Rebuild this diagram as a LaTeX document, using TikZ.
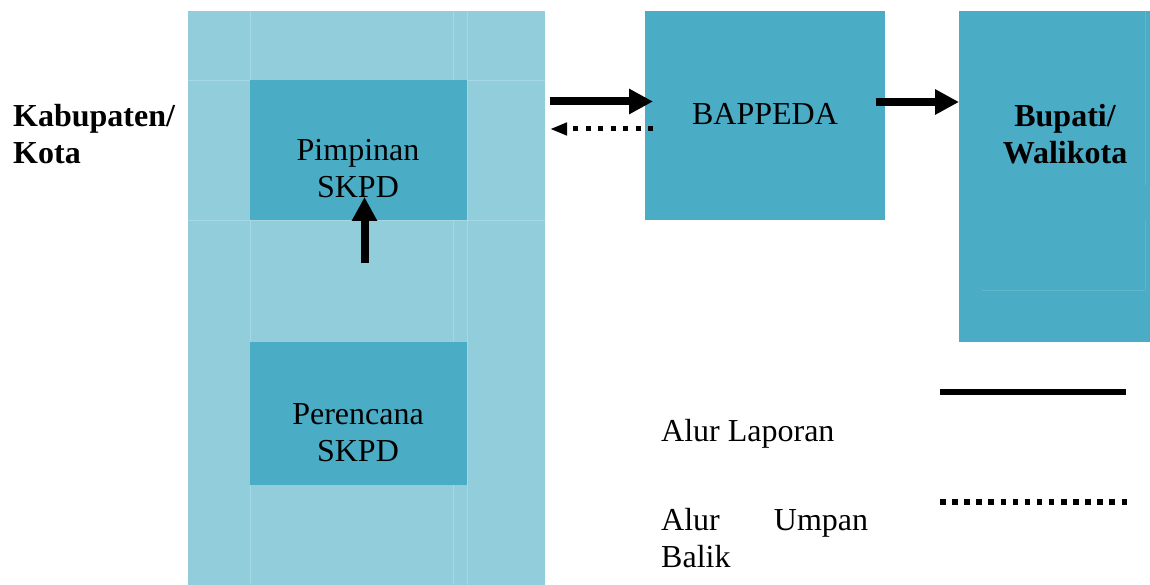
\documentclass[tikz,border=0pt]{standalone}
\usepackage{fontspec}
\setmainfont{Liberation Serif}
\usetikzlibrary{arrows.meta,calc}
\definecolor{lightaqua}{HTML}{92CDDC}
\definecolor{darkaqua}{HTML}{4BACC6}
\definecolor{gridl}{HTML}{A6D7E4}
\definecolor{gridd}{HTML}{5FB6CD}
\begin{document}
\begin{tikzpicture}[x=1pt,y=-1pt,
  box/.style={inner sep=0pt, outer sep=0pt, anchor=north west, draw=none},
  txt/.style={font=\fontsize{32}{37}\selectfont, inner sep=0pt, anchor=base},
  txtl/.style={txt, anchor=base west},
  bold/.style={font=\fontsize{32}{37}\selectfont\bfseries},
  bigarrow/.style={line width=8pt, -{Triangle[length=24pt,width=24pt]}},
  dotarrow/.style={line width=5pt, dash pattern=on 5pt off 7.5pt, -{Triangle[length=17pt,width=12pt]}},
  solidleg/.style={line width=6pt},
  dotleg/.style={line width=5.5pt, dash pattern=on 5.5pt off 6.6pt},
  faint/.style={draw=gridl, line width=0.8pt},
  faintd/.style={draw=gridd, line width=0.8pt}]
\useasboundingbox (0,0) rectangle (1150,585);

% boxes
\node[box, fill=lightaqua, minimum width=357pt, minimum height=574pt] (kab) at (188,11) {};
\draw[faint] (250,11) -- (250,585);
\draw[faint] (453,11) -- (453,585);
\draw[faint] (467,11) -- (467,585);
\draw[faint] (188,80) -- (545,80);
\draw[faint] (188,220) -- (545,220);
\node[box, fill=darkaqua, minimum width=217pt, minimum height=140pt] (pim) at (250,80) {};
\node[box, fill=darkaqua, minimum width=217pt, minimum height=143pt] (per) at (250,342) {};
\node[box, fill=darkaqua, minimum width=240pt, minimum height=209pt] (bap) at (645,11) {};
\node[box, fill=darkaqua, minimum width=191pt, minimum height=331pt] (bup) at (959,11) {};
\draw[faintd] (1145,11) -- (1145,185);
\draw[faintd] (1145,220) -- (1145,290);
\draw[faintd] (982,290) -- (1145,290);

% texts
\node[txtl, font=\fontsize{32}{37}\selectfont\bfseries] (kab1) at (13,127) {Kabupaten/};
\node[txtl, font=\fontsize{32}{37}\selectfont\bfseries] (kab2) at (13,164) {Kota};
\node[txt] (pim1) at (358,161) {Pimpinan};
\node[txt] (pim2) at (358,198) {SKPD};
\node[txt] (per1) at (358,424) {Perencana};
\node[txt] (per2) at (358,461) {SKPD};
\node[txt] (bap1) at (765,125) {BAPPEDA};
\node[txt, font=\fontsize{32}{37}\selectfont\bfseries] (bup1) at (1065,127) {Bupati/};
\node[txt, font=\fontsize{32}{37}\selectfont\bfseries] (bup2) at (1065,164) {Walikota};
\node[txtl] (leg1) at (661,441) {Alur Laporan};
\node[txtl] (leg2) at (661,530) {\hbox to 207pt{Alur\hfill Umpan}};
\node[txtl] (leg3) at (661,567) {Balik};

% arrows
\draw[bigarrow] ($(kab.north east)+(5,90.5)$) -- ($(bap.north west)+(8,90.5)$);
\draw[dotarrow] ($(bap.north west)+(8,118)$) -- ($(kab.north east)+(5,118)$);
\draw[bigarrow] ($(bap.north east)+(-9,91)$) -- ($(bup.north west)+(0,91)$);
\draw[bigarrow] ($(pim.south)+(6,43)$) -- ($(pim.south)+(6,-23)$);

% legend
\coordinate (ls1) at (940,392);
\coordinate (ls2) at (1126,392);
\coordinate (ld1) at (940,502);
\coordinate (ld2) at (1130,502);
\draw[solidleg] (ls1) -- (ls2);
\draw[dotleg] (ld1) -- (ld2);
\end{tikzpicture}
\end{document}
